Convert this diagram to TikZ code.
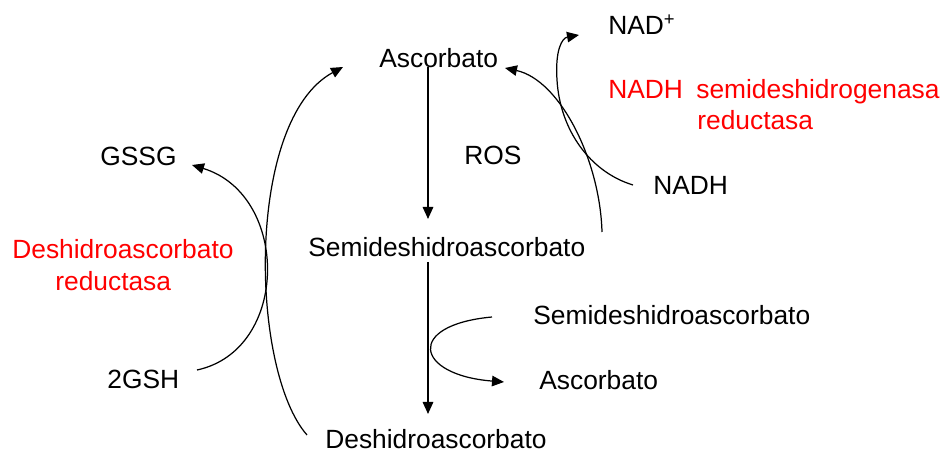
\documentclass[tikz,border=0pt]{standalone}
\usepackage{fontspec}
\setmainfont{Liberation Sans}
\usetikzlibrary{arrows.meta}

\tikzset{
  lbl/.style={anchor=base west, inner sep=0pt, font=\fontsize{15}{18}\selectfont},
  enz/.style={lbl, text=red},
  flow/.style={line width=0.8pt, -{Triangle[length=2.4mm,width=2.1mm]}},
  side/.style={line width=0.7pt, -{Triangle[length=2.4mm,width=2.1mm]}}
}

\begin{document}
\begin{tikzpicture}[x=0.02cm, y=-0.02cm]
    \useasboundingbox (0,0) rectangle (941,455);

    % main chain
    \node[lbl] (asc) at (379,68) {Ascorbato};
    \node[lbl] (ros) at (464,165) {ROS};
    \node[lbl] (semi) at (308,257) {Semideshidroascorbato};
    \node[lbl] (dha) at (325,449) {Deshidroascorbato};

    % glutathione side
    \node[lbl] (gssg) at (100,166) {GSSG};
    \node[lbl] (gsh) at (107,389) {2GSH};
    \node[enz] (dhar) at (12,259) {Deshidroascorbato};
    \node[enz] (dhar2) at (55,291) {reductasa};

    % NADH side
    \node[lbl] (nad) at (608,35) {NAD\textsuperscript{+}};
    \node[enz] (nadhr) at (608,99) {NADH};
    \node[enz] (mdhar) at (696,99) {semideshidrogenasa};
    \node[enz] (mdhar2) at (697,130) {reductasa};
    \node[lbl] (nadh) at (653,195) {NADH};

    % dismutation
    \node[lbl] (semi2) at (533,325) {Semideshidroascorbato};
    \node[lbl] (asc2) at (539,390) {Ascorbato};

    \coordinate (a1) at (428,67);
    \coordinate (a2) at (428,219);
    \coordinate (a3) at (428,262);
    \coordinate (a4) at (428,414);
    \coordinate (dha-out) at (307,435);
    \coordinate (asc-in) at (343,67);
    \coordinate (gsh-out) at (197,370);
    \coordinate (gssg-in) at (192,165);
    \coordinate (nadh-out) at (633,185);
    \coordinate (nadh-mid) at (557,80);
    \coordinate (nad-in) at (579,35);
    \coordinate (semi-out) at (602,232);
    \coordinate (asc-in2) at (505,68);
    \coordinate (semi2-out) at (492,317);
    \coordinate (asc2-in) at (504,382);

    \draw[flow] (a1) -- (a2);
    \draw[flow] (a3) -- (a4);

    \draw[side] (dha-out) .. controls (250,370) and (245,120) .. (asc-in);
    \draw[side] (gsh-out) .. controls (290,350) and (290,195) .. (gssg-in);
    \draw[side] (nadh-out) .. controls (590,172) and (560,130) .. (nadh-mid)
                .. controls (555,50) and (562,38) .. (nad-in);
    \draw[side] (semi-out) .. controls (600,160) and (560,80) .. (asc-in2);
    \draw[side] (semi2-out) .. controls (405,325) and (415,375) .. (asc2-in);
\end{tikzpicture}
\end{document}
